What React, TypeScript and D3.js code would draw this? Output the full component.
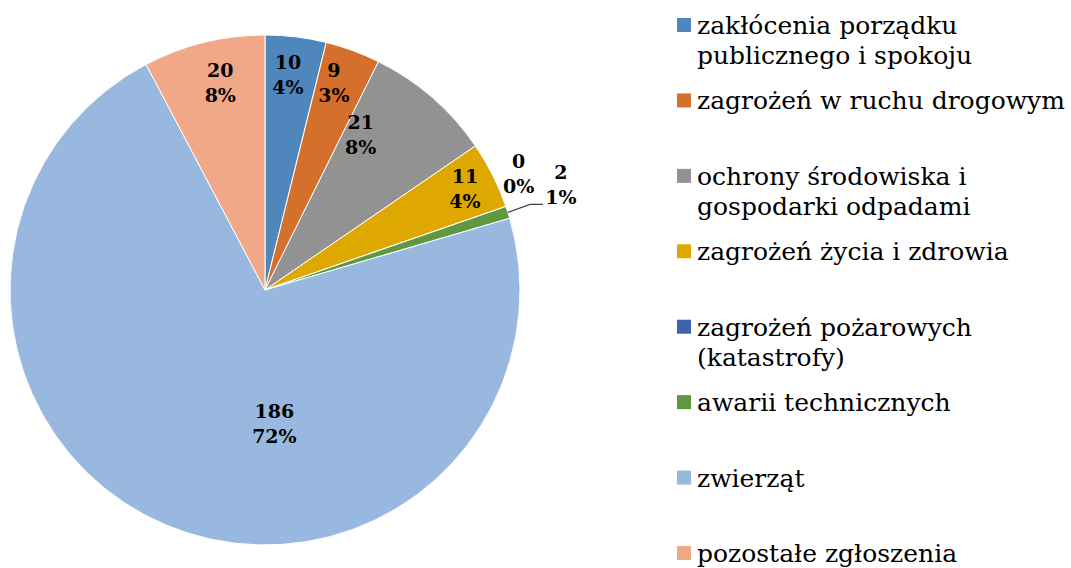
import React from "react";
import * as d3 from "d3";

const categories = [
  ["zakłócenia porządku", "publicznego i spokoju"],
  ["zagrożeń w ruchu drogowym"],
  ["ochrony środowiska i", "gospodarki odpadami"],
  ["zagrożeń życia i zdrowia"],
  ["zagrożeń pożarowych", "(katastrofy)"],
  ["awarii technicznych"],
  ["zwierząt"],
  ["pozostałe zgłoszenia"],
];
const values = [10, 9, 21, 11, 0, 2, 186, 20];
const percentLabels = ["4%", "3%", "8%", "4%", "0%", "1%", "72%", "8%"];
const colors = ["#4f87bd", "#d4702b", "#929292", "#dfa800", "#3b62ab", "#5f9840", "#99b8df", "#f0a888"];

// label placement: [angle offset from slice middle (rad), radius]
const labelLayout: [number, number][] = [
  [-0.015, 216],
  [-0.03, 218],
  [-0.162, 182],
  [0.0, 224],
  [-0.096, 279],
  [0.0, 0],
  [-0.47, 135],
  [0.03, 212],
];

const W = 1071;
const H = 568;
const cx = 265;
const cy = 290;
const R = 255;
const FONT = "'DejaVu Serif', serif";

export default function App() {
  const pie = d3.pie<number>().value((d) => d).sort(null);
  const arcs = pie(values);
  const arc = d3.arc<d3.PieArcDatum<number>>().innerRadius(0).outerRadius(R);

  const legendY = d3.scaleLinear().domain([0, categories.length - 1]).range([25, 553]);

  // leader line for the small slice (index 5)
  const small = arcs[5];
  const smallMid = (small.startAngle + small.endAngle) / 2;
  const p0 = [cx + Math.sin(smallMid) * R, cy - Math.cos(smallMid) * R];
  const p1 = [p0[0] + 22, p0[1] - 8];
  const p2 = [p1[0] + 13, p1[1]];

  return (
    <svg width={W} height={H} style={{ display: "block", position: "absolute", left: 0, top: 0 }}>
      <rect width={W} height={H} fill="#ffffff" />
      <g transform={`translate(${cx},${cy})`}>
        {arcs.map((a, i) => (
          <path key={i} d={arc(a) || ""} fill={colors[i]} stroke="#ffffff" strokeWidth={1} />
        ))}
      </g>
      <polyline
        points={[p0, p1, p2].map((p) => p.join(",")).join(" ")}
        fill="none"
        stroke="#404040"
        strokeWidth={1.2}
      />
      {arcs.map((a, i) => {
        let x: number, y: number;
        if (i === 5) {
          x = p2[0] + 18;
          y = p2[1] - 19;
        } else {
          const mid = (a.startAngle + a.endAngle) / 2 + labelLayout[i][0];
          const r = labelLayout[i][1];
          x = cx + Math.sin(mid) * r;
          y = cy - Math.cos(mid) * r;
        }
        return (
          <text
            key={i}
            x={x}
            y={y}
            textAnchor="middle"
            fontFamily={FONT}
            fontWeight="bold"
            fontSize={19}
            fill="#000000"
          >
            <tspan x={x} dy="-0.33em">{values[i]}</tspan>
            <tspan x={x} dy="1.32em">{percentLabels[i]}</tspan>
          </text>
        );
      })}
      {categories.map((lines, i) => {
        const y = legendY(i);
        return (
          <g key={i}>
            <rect x={677} y={y - 7} width={14} height={14} fill={colors[i]} />
            <text x={697} y={y} fontFamily={FONT} fontSize={25} fill="#000000">
              {lines.map((l, j) => (
                <tspan key={j} x={697} dy={j === 0 ? "0.36em" : 30}>
                  {l}
                </tspan>
              ))}
            </text>
          </g>
        );
      })}
    </svg>
  );
}
